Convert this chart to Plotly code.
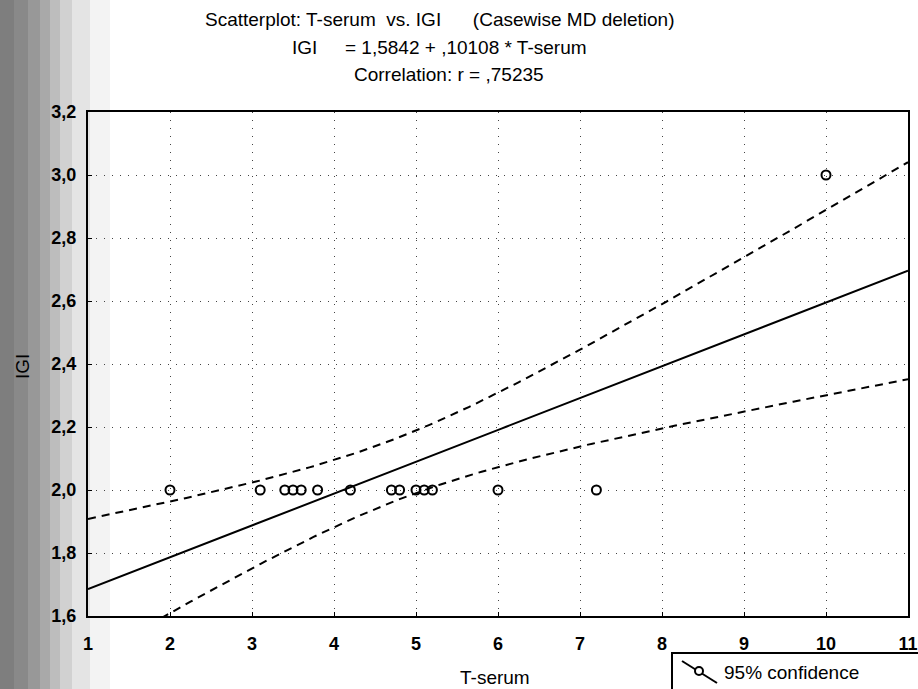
import numpy as np
import plotly.graph_objects as go

# Observations (casewise MD deletion)
t_serum = [2.0, 3.1, 3.4, 3.5, 3.6, 3.8, 4.2, 4.7, 4.8, 5.0, 5.1, 5.2, 6.0, 7.2, 10.0]
igi = [2.0, 2.0, 2.0, 2.0, 2.0, 2.0, 2.0, 2.0, 2.0, 2.0, 2.0, 2.0, 2.0, 2.0, 3.0]

# Fitted model as reported in the header
intercept = 1.5842
slope = 0.10108
t_crit = 2.160  # t(0.975, df = n - 2 = 13)

x_ticks = [1, 2, 3, 4, 5, 6, 7, 8, 9, 10, 11]
y_ticks = [1.6, 1.8, 2.0, 2.2, 2.4, 2.6, 2.8, 3.0, 3.2]

# Regression line and 95% confidence band for the mean
x = np.array(t_serum)
y = np.array(igi)
n = len(x)
resid = y - (intercept + slope * x)
s = np.sqrt(np.sum(resid ** 2) / (n - 2))
sxx = np.sum((x - x.mean()) ** 2)
xs = np.linspace(1, 11, 201)
fit = intercept + slope * xs
half = t_crit * s * np.sqrt(1.0 / n + (xs - x.mean()) ** 2 / sxx)

W, H = 918, 689
L, R, T, B = 88, 10, 112, 73
PW, PH = W - L - R, H - T - B


def px(xp):
    return (xp - L) / PW


def py(yp):
    return (H - B - yp) / PH


FONT = "Liberation Sans, Arial, sans-serif"
TXT = 19

fig = go.Figure()
fig.add_trace(go.Scatter(x=xs, y=fit, mode="lines",
                         line=dict(color="black", width=2), hoverinfo="skip"))
fig.add_trace(go.Scatter(x=xs, y=fit + half, mode="lines",
                         line=dict(color="black", width=2, dash="8px,6px"), hoverinfo="skip"))
fig.add_trace(go.Scatter(x=xs, y=fit - half, mode="lines",
                         line=dict(color="black", width=2, dash="8px,6px"), hoverinfo="skip"))
fig.add_trace(go.Scatter(x=t_serum, y=igi, mode="markers",
                         marker=dict(symbol="circle-open", size=9, color="black",
                                     line=dict(width=2, color="black"))))

axis_common = dict(
    automargin=False,
    ticklabeloverflow="allow",
    showline=True, linecolor="black", linewidth=2, mirror=True,
    ticks="inside", ticklen=4, tickcolor="black", tickwidth=1,
    showgrid=True, gridcolor="#444444", gridwidth=1, griddash="1px,7px",
    zeroline=False,
    tickfont=dict(family=FONT, size=18, color="black", weight="bold"),
)

fig.update_layout(
    width=W, height=H,
    margin=dict(l=L, r=R, t=T, b=B),
    paper_bgcolor="white", plot_bgcolor="white",
    showlegend=False,
    separators=", ",
    xaxis=dict(range=[1, 11], tickvals=x_ticks, ticklabelstandoff=10, **axis_common),
    yaxis=dict(range=[1.6, 3.2], tickvals=y_ticks, tickformat=".1f",
               ticklabelstandoff=6, **axis_common),
)

# Faded scan strip along the left margin
for w, op in [(110, 0.06), (90, 0.08), (72, 0.1), (60, 0.12), (50, 0.14),
              (40, 0.14), (28, 0.14), (14, 0.12)]:
    fig.add_shape(type="rect", xref="paper", yref="paper",
                  x0=px(0), x1=px(w), y0=py(H), y1=py(0),
                  fillcolor="#333333", opacity=op, line_width=0, layer="below")

# Header lines
ann = dict(xref="paper", yref="paper", showarrow=False,
           font=dict(family=FONT, size=TXT, color="black"))
fig.add_annotation(text="Scatterplot: T-serum  vs. IGI      (Casewise MD deletion)",
                   x=px(203), y=py(19), xanchor="left", yanchor="middle", **ann)
fig.add_annotation(text="IGI", x=px(290), y=py(47), xanchor="left", yanchor="middle", **ann)
fig.add_annotation(text="= 1,5842 + ,10108 * T-serum",
                   x=px(343), y=py(47), xanchor="left", yanchor="middle", **ann)
fig.add_annotation(text="Correlation: r = ,75235",
                   x=px(352), y=py(74), xanchor="left", yanchor="middle", **ann)

# Axis titles
fig.add_annotation(text="T-serum", x=px(495), y=py(677), xanchor="center",
                   yanchor="middle", **ann)
fig.add_annotation(text="IGI", x=px(22), y=py(367), xanchor="center",
                   yanchor="middle", textangle=-90, **ann)

# Confidence legend box
fig.add_shape(type="rect", xref="paper", yref="paper",
              x0=px(672), x1=px(930), y0=py(653), y1=py(700),
              line=dict(color="black", width=2), fillcolor="white")
fig.add_shape(type="line", xref="paper", yref="paper",
              x0=px(682), y0=py(661), x1=px(717), y1=py(683),
              line=dict(color="black", width=2))
fig.add_shape(type="circle", xref="paper", yref="paper",
              x0=px(695), x1=px(703), y0=py(667), y1=py(675),
              line=dict(color="black", width=2), fillcolor="white")
fig.add_annotation(text="95% confidence", x=px(722), y=py(672), xanchor="left",
                   yanchor="middle", xref="paper", yref="paper", showarrow=False,
                   font=dict(family=FONT, size=TXT, color="black"))

fig.write_html("out.html")
